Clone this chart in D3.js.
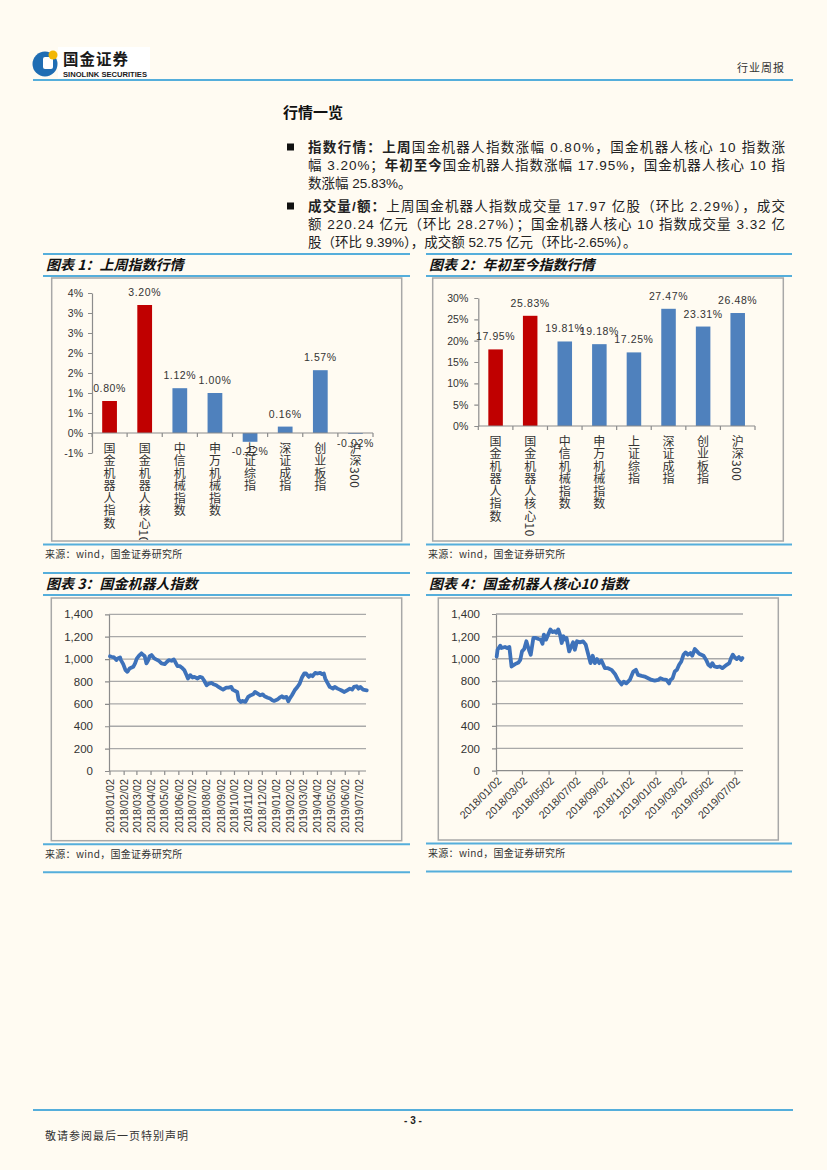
<!DOCTYPE html>
<html><head><meta charset="utf-8">
<script src="https://cdn.jsdelivr.net/npm/d3@7"></script>
<style>
html,body{margin:0;padding:0;background:#FFFBF2;}
svg{display:block;}
</style></head>
<body>
<svg id="page" width="827" height="1170"></svg>
<script>
// ---------------- DATA ----------------
const categories = ["国金机器人指数","国金机器人核心10","中信机械指数","申万机械指数","上证综指","深证成指","创业板指","沪深300"];
const weekChange = [0.80, 3.20, 1.12, 1.00, -0.22, 0.16, 1.57, -0.02];
const weekTickValues = [-0.5, 0, 0.5, 1, 1.5, 2, 2.5, 3, 3.5];
const weekTickLabels = ["-1%","0%","1%","1%","2%","2%","3%","3%","4%"];
const ytdChange = [17.95, 25.83, 19.81, 19.18, 17.25, 27.47, 23.31, 26.48];
const ytdTickValues = [0, 5, 10, 15, 20, 25, 30];

const indexTickValues = [0, 200, 400, 600, 800, 1000, 1200, 1400];
const monthTicks3 = ["2018/01/02","2018/02/02","2018/03/02","2018/04/02","2018/05/02","2018/06/02","2018/07/02","2018/08/02","2018/09/02","2018/10/02","2018/11/02","2018/12/02","2019/01/02","2019/02/02","2019/03/02","2019/04/02","2019/05/02","2019/06/02","2019/07/02"];
const monthTicks4 = ["2018/01/02","2018/03/02","2018/05/02","2018/07/02","2018/09/02","2018/11/02","2019/01/02","2019/03/02","2019/05/02","2019/07/02"];

const robotDates = ["2018-01-02","2018-01-05","2018-01-11","2018-01-16","2018-01-19","2018-01-24","2018-01-26","2018-01-31","2018-02-05","2018-02-09","2018-02-14","2018-02-22","2018-02-26","2018-03-02","2018-03-08","2018-03-12","2018-03-16","2018-03-19","2018-03-23","2018-03-27","2018-03-30","2018-04-03","2018-04-09","2018-04-13","2018-04-19","2018-04-25","2018-05-02","2018-05-07","2018-05-11","2018-05-17","2018-05-22","2018-05-25","2018-05-30","2018-06-04","2018-06-08","2018-06-14","2018-06-19","2018-06-22","2018-06-27","2018-07-02","2018-07-06","2018-07-13","2018-07-18","2018-07-23","2018-07-27","2018-08-02","2018-08-07","2018-08-13","2018-08-17","2018-08-23","2018-08-28","2018-09-03","2018-09-07","2018-09-14","2018-09-19","2018-09-25","2018-09-28","2018-10-08","2018-10-09","2018-10-11","2018-10-16","2018-10-19","2018-10-26","2018-11-01","2018-11-07","2018-11-12","2018-11-16","2018-11-22","2018-11-27","2018-12-03","2018-12-07","2018-12-14","2018-12-19","2018-12-24","2018-12-28","2019-01-04","2019-01-09","2019-01-14","2019-01-18","2019-01-24","2019-01-28","2019-01-31","2019-02-05","2019-02-11","2019-02-17","2019-02-22","2019-02-27","2019-03-04","2019-03-08","2019-03-14","2019-03-18","2019-03-22","2019-03-28","2019-04-02","2019-04-08","2019-04-12","2019-04-16","2019-04-19","2019-04-24","2019-04-29","2019-05-06","2019-05-10","2019-05-16","2019-05-21","2019-05-24","2019-05-31","2019-06-06","2019-06-12","2019-06-17","2019-06-21","2019-06-27","2019-07-01","2019-07-05","2019-07-11","2019-07-19"];
const robotValues = [1025,1021,1015,991,1006,1015,991,955,901,886,916,931,961,1006,1036,1051,1036,1027,961,991,1027,1036,1006,997,985,961,955,976,991,985,997,976,937,937,925,901,856,826,856,835,841,826,841,835,811,766,781,787,775,766,751,736,727,745,745,751,727,706,685,638,617,626,617,662,677,685,706,691,677,685,668,655,647,632,626,638,655,668,655,662,623,647,677,721,751,781,835,871,871,841,856,847,877,871,877,865,871,826,787,751,736,751,736,727,721,706,721,736,727,751,757,736,751,727,721];

const coreDates = ["2018-01-02","2018-01-04","2018-01-10","2018-01-13","2018-01-21","2018-01-26","2018-01-31","2018-02-03","2018-02-05","2018-02-13","2018-02-21","2018-02-25","2018-03-01","2018-03-06","2018-03-11","2018-03-14","2018-03-18","2018-03-21","2018-03-27","2018-04-02","2018-04-08","2018-04-13","2018-04-17","2018-04-20","2018-04-25","2018-04-30","2018-05-05","2018-05-10","2018-05-15","2018-05-19","2018-05-23","2018-05-27","2018-05-31","2018-06-04","2018-06-08","2018-06-11","2018-06-17","2018-06-22","2018-06-26","2018-06-30","2018-07-05","2018-07-11","2018-07-19","2018-07-25","2018-07-31","2018-08-05","2018-08-10","2018-08-15","2018-08-20","2018-08-25","2018-08-30","2018-09-07","2018-09-14","2018-09-22","2018-09-30","2018-10-07","2018-10-15","2018-10-20","2018-10-26","2018-11-03","2018-11-11","2018-11-17","2018-11-22","2018-11-30","2018-12-07","2018-12-15","2018-12-23","2018-12-30","2019-01-07","2019-01-12","2019-01-18","2019-01-26","2019-02-01","2019-02-04","2019-02-09","2019-02-14","2019-02-19","2019-02-24","2019-03-01","2019-03-06","2019-03-11","2019-03-16","2019-03-22","2019-03-26","2019-04-01","2019-04-06","2019-04-11","2019-04-16","2019-04-21","2019-04-27","2019-05-02","2019-05-07","2019-05-11","2019-05-16","2019-05-22","2019-05-28","2019-06-03","2019-06-08","2019-06-13","2019-06-19","2019-06-23","2019-06-27","2019-07-01","2019-07-06","2019-07-11","2019-07-16","2019-07-19"];
const coreValues = [1020,1080,1117,1096,1105,1096,1105,1000,931,952,967,990,1066,1087,1156,1117,1066,1036,1186,1186,1177,1171,1135,1216,1171,1216,1262,1238,1247,1232,1262,1216,1141,1201,1171,1186,1066,1111,1147,1081,1156,1147,1156,1126,1036,961,1027,961,997,961,985,916,916,901,865,811,771,795,780,811,886,901,856,847,841,826,811,805,811,826,817,811,780,811,826,886,901,946,976,1036,1057,1036,1051,1027,1087,1066,1045,1036,1027,990,946,931,961,931,925,931,916,931,946,961,1006,1036,1015,997,1015,990,1006];

// ---------------- STYLE ----------------
const svg = d3.select("#page");
const RULE = "#55AEDB";
const FRAME = "#A8A8A8";
const AXIS = "#8C8C8C";
const GRID = "#A9A9A9";
const RED = "#C00000";
const BARBLUE = "#4F81BD";
const LINEBLUE = "#3E72BA";
const TXT = "#333333";
const CJK = "'Noto Sans CJK SC', sans-serif";
const LAT = "'Liberation Sans', 'Noto Sans CJK SC', sans-serif";

// ---------------- HEADER ----------------
svg.append("rect").attr("x", 58).attr("y", 47).attr("width", 92).attr("height", 31).attr("fill", "#ffffff");
svg.append("circle").attr("cx", 45).attr("cy", 64).attr("r", 12.5).attr("fill", "#1F6DB3");
svg.append("rect").attr("x", 43).attr("y", 57).attr("width", 10).attr("height", 12).attr("rx", 2).attr("fill", "#ffffff");
svg.append("circle").attr("cx", 53).attr("cy", 55).attr("r", 4.5).attr("fill", "#F2B705");
svg.append("text").attr("x", 63).attr("y", 65).attr("font-family", CJK).attr("font-weight", "bold")
  .attr("font-size", 15.5).attr("letter-spacing", 1).attr("fill", "#1a1a1a").text("国金证券");
svg.append("text").attr("x", 63).attr("y", 76.5).attr("font-family", LAT).attr("font-weight", "bold")
  .attr("font-size", 6.5).attr("textLength", 84).attr("lengthAdjust", "spacingAndGlyphs").attr("fill", "#1a1a1a").text("SINOLINK SECURITIES");
svg.append("text").attr("x", 785).attr("y", 72).attr("text-anchor", "end").attr("font-family", CJK)
  .attr("font-size", 11).attr("letter-spacing", 1).attr("fill", TXT).text("行业周报");
svg.append("line").attr("x1", 33).attr("x2", 793).attr("y1", 80).attr("y2", 80).attr("stroke", RULE).attr("stroke-width", 2);

// ---------------- TEXT BLOCK ----------------
svg.append("text").attr("x", 283).attr("y", 118).attr("font-family", CJK).attr("font-weight", "bold")
  .attr("font-size", 15).attr("fill", "#111").text("行情一览");

const bulletLines = [
  {y: 152, just: true, parts: [{b: 1, t: "指数行情："}, {b: 1, t: "上周"}, {t: "国金机器人指数涨幅 0.80%，国金机器人核心 10 指数涨"}]},
  {y: 170, just: true, parts: [{t: "幅 3.20%；"}, {b: 1, t: "年初至今"}, {t: "国金机器人指数涨幅 17.95%，国金机器人核心 10 指"}]},
  {y: 188, just: false, parts: [{t: "数涨幅 25.83%。"}]},
  {y: 211, just: true, parts: [{b: 1, t: "成交量/额："}, {t: "上周国金机器人指数成交量 17.97 亿股（环比 2.29%），成交"}]},
  {y: 229, just: true, parts: [{t: "额 220.24 亿元（环比 28.27%）；国金机器人核心 10 指数成交量 3.32 亿"}]},
  {y: 247, just: false, parts: [{t: "股（环比 9.39%），成交额 52.75 亿元（环比-2.65%）。"}]}
];
bulletLines.forEach(l => {
  const t = svg.append("text").attr("x", 308).attr("y", l.y).attr("font-family", LAT)
    .attr("font-size", 13.5).attr("fill", "#222");
  l.parts.forEach(p => t.append("tspan").attr("font-weight", p.b ? "bold" : null).text(p.t));
  if (l.just) t.attr("textLength", 477).attr("lengthAdjust", "spacing");
});
[147, 206].forEach(cy => svg.append("rect").attr("x", 287).attr("y", cy - 3.5).attr("width", 7).attr("height", 7).attr("fill", "#111"));

// ---------------- PANEL HELPERS ----------------
function panel(o) {
  svg.append("line").attr("x1", o.rx0).attr("x2", o.rx1).attr("y1", o.top).attr("y2", o.top).attr("stroke", RULE).attr("stroke-width", 2);
  svg.append("text").attr("x", o.rx0 + 3).attr("y", o.top + 16).attr("font-family", CJK).attr("font-weight", "bold")
    .attr("font-style", "italic").attr("font-size", 14).attr("fill", "#111").text(o.title);
  svg.append("line").attr("x1", o.rx0).attr("x2", o.rx1).attr("y1", o.top + 22).attr("y2", o.top + 22).attr("stroke", RULE).attr("stroke-width", 2);
  svg.append("rect").attr("x", o.fx0).attr("y", o.fy0).attr("width", o.fx1 - o.fx0).attr("height", o.fy1 - o.fy0)
    .attr("fill", "none").attr("stroke", FRAME).attr("stroke-width", 1.5);
  svg.append("line").attr("x1", o.rx0).attr("x2", o.rx1).attr("y1", o.fy1 + 3.5).attr("y2", o.fy1 + 3.5).attr("stroke", RULE).attr("stroke-width", 2);
  svg.append("text").attr("x", o.rx0 + 2).attr("y", o.fy1 + 17).attr("font-family", CJK).attr("font-size", 10)
    .attr("letter-spacing", 0.3).attr("fill", TXT).text("来源：wind，国金证券研究所");
  if (o.bottomRule) svg.append("line").attr("x1", o.rx0).attr("x2", o.rx1).attr("y1", o.fy1 + 31.5).attr("y2", o.fy1 + 31.5).attr("stroke", RULE).attr("stroke-width", 2);
  const id = "clip" + o.id;
  svg.append("clipPath").attr("id", id).append("rect").attr("x", o.fx0).attr("y", o.fy0).attr("width", o.fx1 - o.fx0).attr("height", o.fy1 - o.fy0 - 1);
  return svg.append("g").attr("clip-path", `url(#${id})`);
}

function styleAxis(g) {
  g.selectAll("path").attr("stroke", AXIS).attr("stroke-width", 1.2);
  g.selectAll("line").attr("stroke", AXIS).attr("stroke-width", 1.2);
  g.selectAll("text").attr("fill", TXT).attr("font-family", LAT);
}

function barChart(g, values, x0, x1, yScale, tickVals, tickFmt, labelPad) {
  const x = d3.scaleBand().domain(categories).range([x0, x1]);
  const bw = x.bandwidth() * 0.42;
  const y0 = yScale(0);
  // y axis
  const ay = g.append("g").attr("transform", `translate(${x0},0)`)
    .call(d3.axisLeft(yScale).tickValues(tickVals).tickFormat(tickFmt).tickSize(4).tickPadding(labelPad).tickSizeOuter(0));
  styleAxis(ay);
  ay.selectAll("text").attr("font-size", 10.5);
  // bars
  g.selectAll(null).data(values).enter().append("rect")
    .attr("x", (d, i) => x(categories[i]) + (x.bandwidth() - bw) / 2)
    .attr("y", d => yScale(Math.max(0, d)))
    .attr("width", bw)
    .attr("height", d => Math.abs(yScale(d) - y0))
    .attr("fill", (d, i) => i < 2 ? RED : BARBLUE);
  // x axis line at zero
  g.append("line").attr("x1", x0).attr("x2", x1).attr("y1", y0).attr("y2", y0).attr("stroke", AXIS).attr("stroke-width", 1.2);
  d3.range(categories.length + 1).forEach(i => {
    const xx = x0 + i * x.step();
    g.append("line").attr("x1", xx).attr("x2", xx).attr("y1", y0).attr("y2", y0 + 4).attr("stroke", AXIS).attr("stroke-width", 1.2);
  });
  // data labels
  g.selectAll(null).data(values).enter().append("text")
    .attr("x", (d, i) => x(categories[i]) + x.bandwidth() / 2)
    .attr("y", d => d >= 0 ? yScale(d) - 9 : yScale(d) + 13)
    .attr("text-anchor", "middle").attr("font-family", LAT).attr("font-size", 10.5)
    .attr("letter-spacing", 0.6).attr("fill", TXT)
    .text(d => d.toFixed(2) + "%");
  // vertical category labels
  g.selectAll(null).data(categories).enter().append("text")
    .attr("x", d => x(d) + x.bandwidth() / 2)
    .attr("y", y0 + 9)
    .style("writing-mode", "vertical-rl")
    .attr("font-family", CJK).attr("font-size", 12).attr("letter-spacing", 0.5).attr("fill", TXT)
    .text(d => d);
}

// ---------------- CHART 1 ----------------
const g1 = panel({id: 1, title: "图表 1：上周指数行情", rx0: 43, rx1: 410, top: 254, fx0: 51.7, fx1: 401.7, fy0: 278, fy1: 541});
const yW = d3.scaleLinear().domain([-0.5, 3.5]).range([453, 293]);
barChart(g1, weekChange, 92, 373, yW, weekTickValues, (d, i) => weekTickLabels[i], 5);

// ---------------- CHART 2 ----------------
const g2 = panel({id: 2, title: "图表 2：年初至今指数行情", rx0: 426, rx1: 792, top: 254, fx0: 432.7, fx1: 783.3, fy0: 278, fy1: 541});
const yY = d3.scaleLinear().domain([0, 30]).range([426, 298]);
barChart(g2, ytdChange, 478.3, 755, yY, ytdTickValues, d => d + "%", 6);

// ---------------- LINE CHARTS ----------------
const parseD = d3.timeParse("%Y-%m-%d");
const parseT = d3.timeParse("%Y/%m/%d");

function lineChart(g, dates, values, o) {
  const x = d3.scaleTime().domain([parseD("2018-01-02"), parseD("2019-07-19")]).range([o.xa, o.xb]);
  const y = d3.scaleLinear().domain([0, 1400]).range([o.y0, o.y1]);
  // grid
  g.selectAll(null).data(indexTickValues.filter(v => v > 0)).enter().append("line")
    .attr("x1", o.gx0).attr("x2", o.gx1).attr("y1", d => y(d)).attr("y2", d => y(d))
    .attr("stroke", GRID).attr("stroke-width", 1.3);
  // y axis
  const ay = g.append("g").attr("transform", `translate(${o.gx0},0)`)
    .call(d3.axisLeft(y).tickValues(indexTickValues).tickFormat(d3.format(",")).tickSize(4).tickPadding(o.pad).tickSizeOuter(0));
  styleAxis(ay);
  ay.selectAll("text").attr("font-size", 11.5);
  // x axis
  g.append("line").attr("x1", o.gx0).attr("x2", o.gx1).attr("y1", y(0)).attr("y2", y(0)).attr("stroke", AXIS).attr("stroke-width", 1.2);
  const ticks = o.ticks.map(parseT);
  g.selectAll(null).data(ticks).enter().append("line")
    .attr("x1", d => x(d)).attr("x2", d => x(d)).attr("y1", y(0)).attr("y2", y(0) + 4)
    .attr("stroke", AXIS).attr("stroke-width", 1.2);
  const fmt = d3.timeFormat("%Y/%m/%d");
  g.selectAll(null).data(ticks).enter().append("text")
    .attr("transform", d => o.rot === -90 ? `translate(${x(d)},${y(0) + 8}) rotate(-90)` : `translate(${x(d) + 3},${y(0) + 8}) rotate(-45)`)
    .attr("dy", "0.35em")
    .attr("text-anchor", "end").attr("font-family", LAT).attr("font-size", 10.8).attr("fill", TXT)
    .text(d => fmt(d));
  // line
  const pts = dates.map((d, i) => ({d: parseD(d), v: values[i]}));
  g.append("path").datum(pts)
    .attr("d", d3.line().x(p => x(p.d)).y(p => y(p.v)))
    .attr("fill", "none").attr("stroke", LINEBLUE).attr("stroke-width", 3.8)
    .attr("stroke-linejoin", "round").attr("stroke-linecap", "round");
}

const g3 = panel({id: 3, title: "图表 3：国金机器人指数", rx0: 43, rx1: 410, top: 573, fx0: 51.3, fx1: 401.7, fy0: 598, fy1: 840.7, bottomRule: true});
lineChart(g3, robotDates, robotValues, {xa: 110, xb: 366.7, y0: 771, y1: 614.3, gx0: 109, gx1: 366, pad: 12, ticks: monthTicks3, rot: -90});

const g4 = panel({id: 4, title: "图表 4：国金机器人核心10 指数", rx0: 426, rx1: 792, top: 573, fx0: 438.3, fx1: 778.3, fy0: 598, fy1: 840, bottomRule: true});
lineChart(g4, coreDates, coreValues, {xa: 496.7, xb: 742.4, y0: 770.7, y1: 614, gx0: 496, gx1: 743, pad: 12, ticks: monthTicks4, rot: -45});

// ---------------- FOOTER ----------------
svg.append("line").attr("x1", 33).attr("x2", 793).attr("y1", 1110).attr("y2", 1110).attr("stroke", RULE).attr("stroke-width", 2);
svg.append("text").attr("x", 413).attr("y", 1124).attr("text-anchor", "middle").attr("font-family", LAT)
  .attr("font-weight", "bold").attr("font-size", 10).attr("fill", "#222").text("- 3 -");
svg.append("text").attr("x", 45).attr("y", 1140).attr("font-family", CJK).attr("font-size", 11)
  .attr("letter-spacing", 1).attr("fill", TXT).text("敬请参阅最后一页特别声明");
</script>
</body></html>
